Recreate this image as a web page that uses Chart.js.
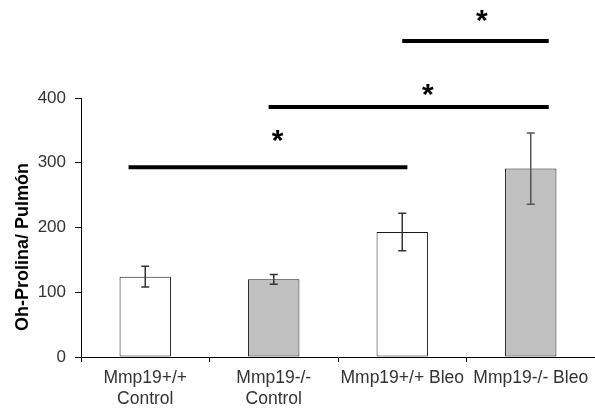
<!DOCTYPE html>
<html>
<head>
<meta charset="utf-8">
<script src="https://cdn.jsdelivr.net/npm/chart.js@4/dist/chart.umd.min.js"></script>
<style>
html,body{margin:0;padding:0;background:#fff;}
canvas{display:block;}
</style>
</head>
<body>
<canvas id="c" width="595" height="409"></canvas>
<script>
// ---- data ----
const categories = [["Mmp19+/+", "Control"], ["Mmp19-/-", "Control"], "Mmp19+/+ Bleo", "Mmp19-/- Bleo"];
const values = [124, 120, 193, 291];
const errors = [16, 7.5, 29, 55];
const yTicks = [0, 100, 200, 300, 400];
const yTitle = "Oh-Prolina/ Pulmón";
// significance brackets (category index span, value level) and star marks
const sigFrom = [-0.13, 0.96, 2.0];
const sigTo = [2.04, 3.14, 3.14];
const sigLevel = [293, 386, 488];
const starPos = [1.03, 2.2, 2.62];
const starLevel = [338, 409, 523];
const starText = ["*", "*", "*"];

const FONT = "'Liberation Sans', Arial, sans-serif";

function catPx(x, v) {
  const p0 = x.getPixelForValue(0), p1 = x.getPixelForValue(1);
  return p0 + v * (p1 - p0);
}

const overlay = {
  id: 'overlay',
  afterDraw(chart) {
    const ctx = chart.ctx, x = chart.scales.x, y = chart.scales.y;
    ctx.save();
    // error bars
    values.forEach((v, i) => {
      const px = x.getPixelForValue(i);
      const t = y.getPixelForValue(v + errors[i]);
      const b = y.getPixelForValue(v - errors[i]);
      ctx.strokeStyle = i === 3 ? '#555' : '#333';
      ctx.lineWidth = 1.5;
      ctx.beginPath();
      ctx.moveTo(px, t); ctx.lineTo(px, b);
      ctx.moveTo(px - 4, t); ctx.lineTo(px + 4, t);
      ctx.moveTo(px - 4, b); ctx.lineTo(px + 4, b);
      ctx.stroke();
    });
    // significance lines
    ctx.strokeStyle = '#000';
    ctx.lineWidth = 4;
    sigLevel.forEach((lv, i) => {
      const py = y.getPixelForValue(lv);
      ctx.beginPath();
      ctx.moveTo(catPx(x, sigFrom[i]), py);
      ctx.lineTo(catPx(x, sigTo[i]), py);
      ctx.stroke();
    });
    // stars
    ctx.fillStyle = '#000';
    ctx.font = 'bold 30px ' + FONT;
    ctx.textAlign = 'center';
    ctx.textBaseline = 'alphabetic';
    starLevel.forEach((lv, i) => {
      const py = y.getPixelForValue(lv);
      ctx.fillText(starText[i], catPx(x, starPos[i]), py + 12);
    });
    // y-axis title (placed lower than the axis midpoint, as in the original)
    ctx.translate(23, y.getPixelForValue(170));
    ctx.rotate(-Math.PI / 2);
    ctx.font = 'bold 18px ' + FONT;
    ctx.textBaseline = 'middle';
    ctx.fillText(yTitle, 0, 0);
    ctx.restore();
  }
};

new Chart(document.getElementById('c'), {
  type: 'bar',
  data: {
    labels: categories,
    datasets: [{
      data: values,
      backgroundColor: ['#ffffff', '#c0c0c0', '#ffffff', '#c0c0c0'],
      borderColor: '#1a1a1a',
      borderWidth: 1,
      borderSkipped: false,
      categoryPercentage: 1,
      barPercentage: 0.4
    }]
  },
  options: {
    responsive: false,
    animation: false,
    layout: { padding: { top: 98, right: 0, left: 0, bottom: 0 } },
    plugins: { legend: { display: false }, title: { display: false }, tooltip: { enabled: false } },
    scales: {
      x: {
        grid: { display: true, drawOnChartArea: false, drawTicks: true, tickLength: 5, color: '#000', offset: true },
        border: { display: true, color: '#000', width: 1 },
        ticks: { color: '#333', font: { family: FONT, size: 17.5 }, padding: 6, maxRotation: 0, autoSkip: false },
        afterFit(s) { s.height = 52; }
      },
      y: {
        min: 0, max: 400,
        afterBuildTicks(s) { s.ticks = yTicks.map(v => ({ value: v })); },
        grid: { display: true, drawOnChartArea: false, drawTicks: true, tickLength: 6, color: '#000' },
        border: { display: true, color: '#000', width: 1 },
        ticks: { color: '#333', font: { family: FONT, size: 17 }, padding: 9 },
        title: { display: false },
        afterFit(s) { s.width = 81; }
      }
    }
  },
  plugins: [overlay]
});
</script>
</body>
</html>
